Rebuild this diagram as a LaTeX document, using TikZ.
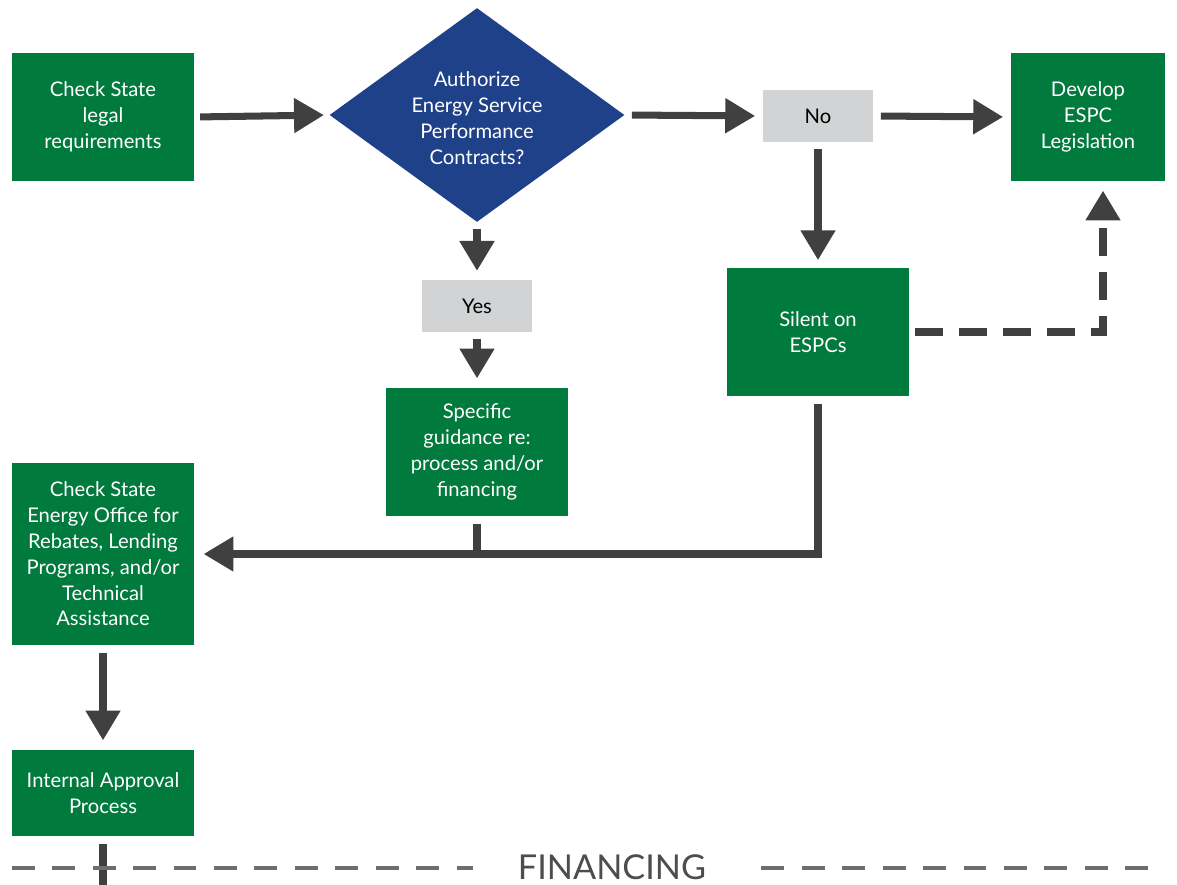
\documentclass[tikz,border=0pt]{standalone}
\usepackage{fontspec}
\setmainfont{Lato}
\usetikzlibrary{arrows.meta,shapes.geometric,positioning}
\definecolor{espcgreen}{RGB}{0,122,61}
\definecolor{espcblue}{RGB}{31,65,137}
\definecolor{espcgray}{RGB}{209,211,212}
\definecolor{flowline}{RGB}{64,64,64}
\definecolor{rulegray}{RGB}{110,110,112}
\definecolor{labelgray}{RGB}{77,77,79}

\begin{document}
\begin{tikzpicture}
[x=0.02cm,y=-0.02cm,
action/.style={rectangle,fill=espcgreen,text=white,inner sep=0pt,
minimum width=3.66cm,minimum height=2.58cm,align=center,
font=\fontsize{11.5}{14.7}\selectfont},
answer/.style={rectangle,fill=espcgray,text=black,inner sep=0pt,
minimum width=2.22cm,minimum height=1.04cm,font=\fontsize{11.5}{14.7}\selectfont},
choice/.style={diamond,fill=espcblue,inner sep=0pt,
minimum width=5.9cm,minimum height=4.28cm},
flow/.style={draw=flowline,line width=4pt,-{Triangle[length=17pt,width=19pt]}},
link/.style={draw=flowline,line width=4pt},
rule/.style={draw=rulegray,line width=2.8pt,dash pattern=on 13pt off 10pt}]
\useasboundingbox (0,0) rectangle (1177,885);
\node at (103,117) [action] (legal) {Check State\\legal\\requirements};
\node at (477,115) [choice] (authorize) {};
\node at (477,118) [text=white,align=center,font=\fontsize{11.5}{14.7}\selectfont] (question)
{Authorize\\Energy Service\\Performance\\Contracts?};
\node at (818,116) [answer] (no) {No};
\node at (1088,117) [action,minimum width=3.1cm] (develop) {Develop\\ESPC\\Legislation};
\node at (477,306) [answer] (yes) {Yes};
\node at (477,452) [action] (guidance) {Specific\\guidance re:\\process and/or\\financing};
\node at (818,332) [action] (silent) {Silent on\\ESPCs};
\node at (103,554) [action,minimum height=3.66cm] (office)
{Check State\\Energy Office for\\Rebates, Lending\\Programs, and/or\\Technical\\Assistance};
\node at (103,793) [action,minimum height=1.74cm] (approval) {Internal Approval\\Process};
\node at (612,867) [text=labelgray,font=\fontsize{19.5}{22}\selectfont] (financing) {FINANCING};
\coordinate (down) at (103,885);
\coordinate (ruleL) at (12,868);
\coordinate (ruleR) at (1165,868);
% main flow
\draw [flow,shorten <=3pt,shorten >=3pt] (legal.east) -- (authorize.west);
\draw [flow,shorten <=4pt,shorten >=4pt] (authorize.east) -- (no.west);
\draw [flow,shorten <=4pt,shorten >=4pt] (no.east) -- (develop.west);
\draw [flow,shorten <=4pt,shorten >=5pt] (authorize.south) -- (yes.north);
\draw [flow,shorten <=4pt,shorten >=5pt] (yes.south) -- (guidance.north);
\draw [flow,shorten <=4pt,shorten >=4pt] (no.south) -- (silent.north);
\draw [flow,dash pattern=on 16pt off 9pt,shorten <=3pt,shorten >=5pt]
(silent.east) -| ([xshift=0.3cm]develop.south);
\draw [flow,shorten <=4pt,shorten >=5pt] (silent.south) |- (office.east);
\draw [link,shorten <=4pt] (guidance.south) -- (guidance.south |- office.east);
\draw [flow,shorten <=4pt,shorten >=5pt] (office.south) -- (approval.north);
\draw [link,shorten <=4pt] (approval.south) -- (down);
% financing rule
\draw [rule,shorten >=22pt] (ruleL) -- (financing.west |- ruleL);
\draw [rule,shorten <=28pt] (financing.east |- ruleR) -- (ruleR);
\end{tikzpicture}
\end{document}
